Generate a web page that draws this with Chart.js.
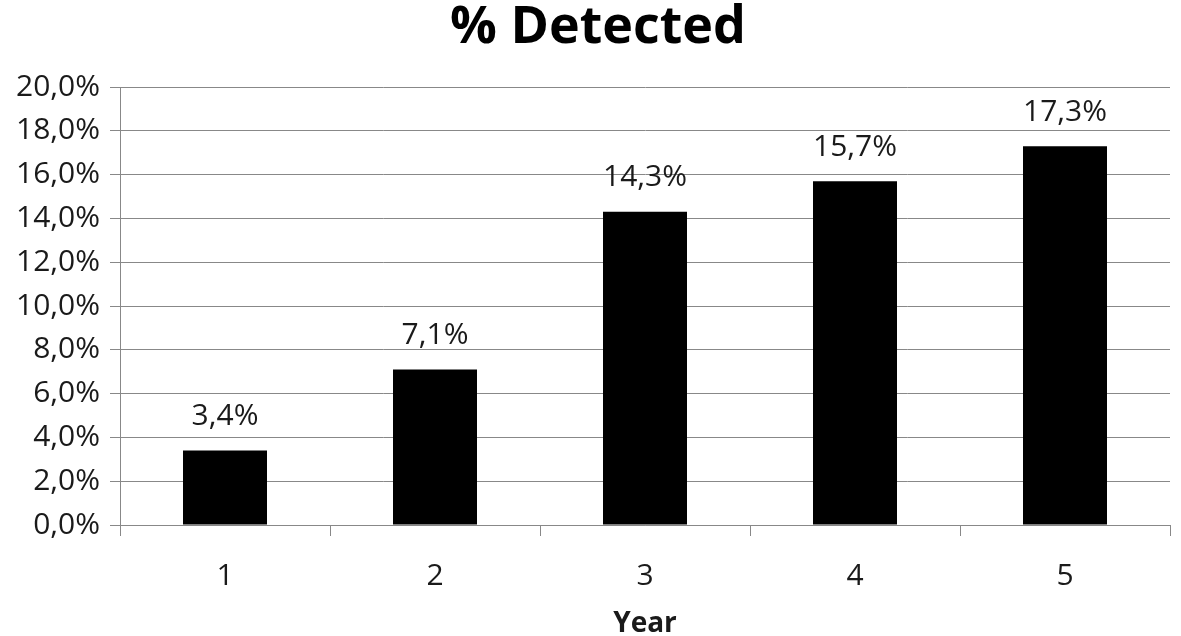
<!DOCTYPE html>
<html>
<head>
<meta charset="utf-8">
<script src="https://cdn.jsdelivr.net/npm/chart.js@4"></script>
<style>
  html, body { margin: 0; padding: 0; background: #fff; }
  #wrap { width: 1181px; height: 636px; }
</style>
</head>
<body>
<div id="wrap"><canvas id="myChart" width="1181" height="636"></canvas></div>
<script>
const years = ['1', '2', '3', '4', '5'];
const detected = [3.4, 7.1, 14.3, 15.7, 17.3];
const yTicks = [0, 2, 4, 6, 8, 10, 12, 14, 16, 18, 20];
const chartTitle = '% Detected';

const fmt = v => v.toFixed(1).replace('.', ',') + '%';

// draws the value above each bar, plus the title (centred a bit right of the canvas centre like the original)
const barLabels = {
    id: 'barLabels',
    afterDatasetsDraw(chart) {
        const ctx = chart.ctx;
        const meta = chart.getDatasetMeta(0);
        ctx.save();
        ctx.font = '30px "Open Sans", sans-serif';
        ctx.fillStyle = '#1a1a1a';
        ctx.textAlign = 'center';
        ctx.textBaseline = 'middle';
        meta.data.forEach((bar, i) => {
            ctx.fillText(fmt(detected[i]), bar.x, bar.y - 34);
        });
        ctx.font = 'bold 52px "Open Sans", sans-serif';
        ctx.fillStyle = '#000';
        ctx.fillText(chartTitle, 598, 28);
        ctx.restore();
    }
};

const myChart = new Chart(document.getElementById('myChart'), {
    type: 'bar',
    data: {
        labels: years,
        datasets: [{
            data: detected,
            backgroundColor: '#000',
            borderWidth: 0,
            barPercentage: 0.4,
            categoryPercentage: 1.0
        }]
    },
    options: {
        responsive: false,
        animation: false,
        layout: { padding: { left: 0, right: 11, top: 87, bottom: 0 } },
        plugins: {
            legend: { display: false },
            tooltip: { enabled: false },
            title: { display: false }
        },
        scales: {
            x: {
                offset: true,
                afterFit(scale) { scale.height = 111; },
                grid: {
                    offset: true,
                    drawOnChartArea: false,
                    drawTicks: true,
                    tickLength: 11,
                    color: '#888'
                },
                border: { color: '#888', width: 1 },
                ticks: {
                    color: '#1a1a1a',
                    padding: 22,
                    font: { family: '"Open Sans", sans-serif', size: 30 }
                },
                title: {
                    display: true,
                    text: 'Year',
                    color: '#1a1a1a',
                    font: { family: '"Open Sans", sans-serif', size: 28, weight: 'bold', lineHeight: 1.0 },
                    padding: { top: 0, bottom: -2 }
                }
            },
            y: {
                min: 0,
                max: 20,
                afterBuildTicks(scale) {
                    scale.ticks = yTicks.map(v => ({ value: v }));
                },
                afterFit(scale) { scale.width = 120; },
                grid: {
                    color: '#888',
                    tickLength: 10
                },
                border: { color: '#888', width: 1 },
                ticks: {
                    color: '#1a1a1a',
                    padding: 10,
                    font: { family: '"Open Sans", sans-serif', size: 30 },
                    callback: v => fmt(v)
                }
            }
        }
    },
    plugins: [barLabels]
});
</script>
</body>
</html>
